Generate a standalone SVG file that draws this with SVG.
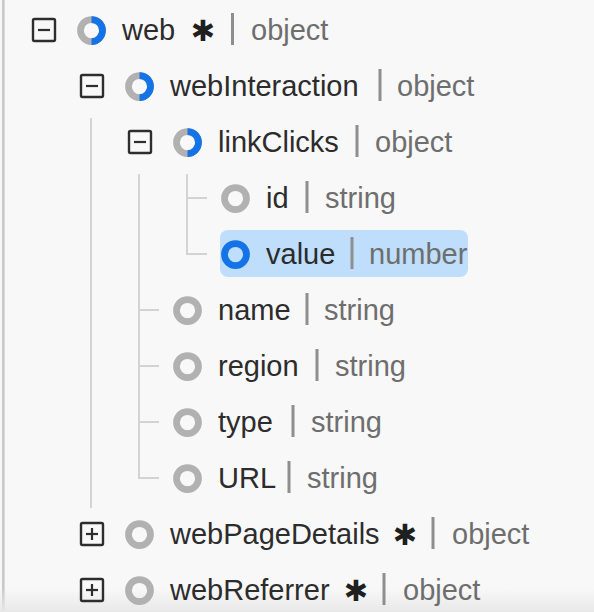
<svg xmlns="http://www.w3.org/2000/svg" width="594" height="612" viewBox="0 0 594 612">
<defs>
<linearGradient id="fade" x1="0" y1="0" x2="0" y2="1">
<stop offset="0" stop-color="#e8e8e8" stop-opacity="0"/>
<stop offset="1" stop-color="#e8e8e8" stop-opacity="1"/>
</linearGradient>
</defs>
<style>
.lbl{font-family:"Liberation Sans",Arial,sans-serif;font-size:29px;fill:#2c2c2c}
.typ{font-family:"Liberation Sans",Arial,sans-serif;font-size:29px;fill:#6e6e6e}
.req{font-family:"DejaVu Sans",sans-serif;font-size:29px;fill:#1f1f1f;text-anchor:middle;dominant-baseline:central}
.bar{stroke:#8e8e8e;stroke-width:3}
.box{fill:none;stroke:#2e2e2e;stroke-width:2.4}
.sign{stroke:#2e2e2e;stroke-width:2.2}
.ring{fill:none;stroke:#b1b1b1;stroke-width:6.75}
.blue{fill:none;stroke:#1473e6;stroke-width:6.75}
.guide{stroke:#d3d3d3;stroke-width:2;fill:none}
</style>
<rect x="0" y="0" width="594" height="612" fill="#f8f8f8"/>
<rect x="2" y="0" width="2.6" height="612" fill="#c9c9c9"/>
<rect x="0" y="588" width="594" height="24" fill="url(#fade)"/>

<g id="connectors">
<path class="guide" d="M91 118 V508"/>
<path class="guide" d="M139 174 V478 H159 M139 310 H159 M139 366 H159 M139 422 H159"/>
<path class="guide" d="M187 174 V254 H207 M187 198 H207"/>
</g>

<g id="web">
<rect class="box" x="33" y="19" width="22" height="22" rx="1.5"/>
<line class="sign" x1="38" y1="30" x2="50" y2="30"/>
<circle class="ring" cx="91.5" cy="30.5" r="11"/>
<path class="blue" d="M91.5 19.5 A11 11 0 0 1 91.5 41.5"/>
<text class="lbl" x="122" y="40">web</text>
<text class="req" x="203" y="31">✱</text>
<line class="bar" x1="232.5" y1="13" x2="232.5" y2="45"/>
<text class="typ" x="251" y="40">object</text>
</g>

<g id="webInteraction">
<rect class="box" x="81" y="75" width="22" height="22" rx="1.5"/>
<line class="sign" x1="86" y1="86" x2="98" y2="86"/>
<circle class="ring" cx="139.5" cy="86.5" r="11"/>
<path class="blue" d="M139.5 75.5 A11 11 0 0 1 139.5 97.5"/>
<text class="lbl" x="170" y="96">webInteraction</text>
<line class="bar" x1="380" y1="69" x2="380" y2="101"/>
<text class="typ" x="397" y="96">object</text>
</g>

<g id="linkClicks">
<rect class="box" x="129" y="131" width="22" height="22" rx="1.5"/>
<line class="sign" x1="134" y1="142" x2="146" y2="142"/>
<circle class="ring" cx="187.5" cy="142.5" r="11"/>
<path class="blue" d="M187.5 131.5 A11 11 0 0 1 187.5 153.5"/>
<text class="lbl" x="218" y="152">linkClicks</text>
<line class="bar" x1="357" y1="125" x2="357" y2="157"/>
<text class="typ" x="375" y="152">object</text>
</g>

<g id="id">
<circle class="ring" cx="235.5" cy="198.5" r="11"/>
<text class="lbl" x="266" y="208">id</text>
<line class="bar" x1="307" y1="181" x2="307" y2="213"/>
<text class="typ" x="325" y="208">string</text>
</g>

<g id="value">
<rect x="220" y="230" width="248" height="47" rx="8" fill="#bfdefb"/>
<circle class="blue" cx="235.5" cy="254.5" r="11"/>
<text class="lbl" x="266" y="264">value</text>
<line class="bar" x1="352" y1="237" x2="352" y2="269"/>
<text class="typ" x="369" y="264">number</text>
</g>

<g id="name">
<circle class="ring" cx="187.5" cy="310.5" r="11"/>
<text class="lbl" x="218" y="320">name</text>
<line class="bar" x1="307" y1="293" x2="307" y2="325"/>
<text class="typ" x="324" y="320">string</text>
</g>

<g id="region">
<circle class="ring" cx="187.5" cy="366.5" r="11"/>
<text class="lbl" x="218" y="376">region</text>
<line class="bar" x1="317" y1="349" x2="317" y2="381"/>
<text class="typ" x="335" y="376">string</text>
</g>

<g id="type">
<circle class="ring" cx="187.5" cy="422.5" r="11"/>
<text class="lbl" x="218" y="432">type</text>
<line class="bar" x1="293" y1="405" x2="293" y2="437"/>
<text class="typ" x="311" y="432">string</text>
</g>

<g id="URL">
<circle class="ring" cx="187.5" cy="478.5" r="11"/>
<text class="lbl" x="218" y="488">URL</text>
<line class="bar" x1="289" y1="461" x2="289" y2="493"/>
<text class="typ" x="307" y="488">string</text>
</g>

<g id="webPageDetails">
<rect class="box" x="81" y="523" width="22" height="22" rx="1.5"/>
<line class="sign" x1="86" y1="534" x2="98" y2="534"/>
<line class="sign" x1="92" y1="528" x2="92" y2="540"/>
<circle class="ring" cx="139.5" cy="534.5" r="11"/>
<text class="lbl" x="170" y="544">webPageDetails</text>
<text class="req" x="405" y="535">✱</text>
<line class="bar" x1="433" y1="517" x2="433" y2="549"/>
<text class="typ" x="452" y="544">object</text>
</g>

<g id="webReferrer">
<rect class="box" x="81" y="579" width="22" height="22" rx="1.5"/>
<line class="sign" x1="86" y1="590" x2="98" y2="590"/>
<line class="sign" x1="92" y1="584" x2="92" y2="596"/>
<circle class="ring" cx="139.5" cy="590.5" r="11"/>
<text class="lbl" x="170" y="600">webReferrer</text>
<text class="req" x="356" y="591">✱</text>
<line class="bar" x1="384" y1="573" x2="384" y2="605"/>
<text class="typ" x="403" y="600">object</text>
</g>
</svg>
